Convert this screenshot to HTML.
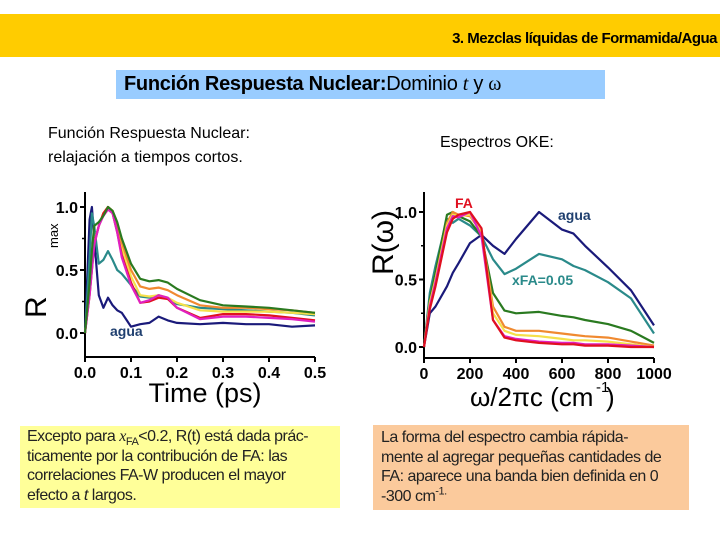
<!DOCTYPE html>
<html><head><meta charset="utf-8"><style>
body{margin:0;width:720px;height:540px;background:#fff;position:relative;overflow:hidden;font-family:"Liberation Sans",sans-serif}
.a{position:absolute}
.note{font-size:16px;line-height:19.5px;color:#222;letter-spacing:-0.5px;white-space:nowrap}
.note sub,.note sup{line-height:0;font-size:11px}
</style></head><body>
<div class="a" style="left:0;top:14px;width:720px;height:43px;background:#ffcc00"></div>
<div class="a" style="right:3px;top:30px;font-size:15px;font-weight:bold;color:#000;letter-spacing:-0.5px">3. Mezclas líquidas de Formamida/Agua</div>
<div class="a" style="left:116px;top:70px;width:489px;height:29px;background:#99ccff;font-size:20px;line-height:29px;padding-left:8px;box-sizing:border-box;letter-spacing:-0.3px"><b>Función Respuesta Nuclear:</b>Dominio <i style="font-family:'Liberation Serif',serif">t</i> y <span style="font-family:'Liberation Serif',serif">ω</span></div>
<div class="a" style="left:48px;top:122px;font-size:16px;line-height:24px">Función Respuesta Nuclear:<br>relajación a tiempos cortos.</div>
<div class="a" style="left:440px;top:134px;font-size:16px">Espectros OKE:</div>
<div class="a note" style="left:20px;top:426px;width:320px;height:82px;background:#ffff99;padding:1px 7px;box-sizing:border-box">Excepto para <i style="font-family:'Liberation Serif',serif">x</i><sub>FA</sub>&lt;0.2, R(t) está dada prác-<br>ticamente por la contribución de FA: las<br>correlaciones FA-W producen el mayor<br>efecto a <i>t</i> largos.</div>
<div class="a note" style="left:373px;top:425px;width:316px;height:85px;background:#fbca9c;padding:3px 8px;box-sizing:border-box">La forma del espectro cambia rápida-<br>mente al agregar pequeñas cantidades de<br>FA: aparece una banda bien definida en 0<br>-300 cm<sup>-1.</sup></div>
<svg class="a" style="left:0;top:0" width="720" height="540" id="svg"></svg>
<script>
const tVals=[0,0.01,0.015,0.02,0.03,0.04,0.05,0.06,0.07,0.08,0.1,0.12,0.14,0.16,0.18,0.2,0.25,0.3,0.35,0.4,0.45,0.5];
const tAgua=[0,0.9,1.0,0.75,0.3,0.2,0.28,0.22,0.18,0.16,0.05,0.07,0.08,0.13,0.1,0.08,0.07,0.08,0.07,0.07,0.05,0.06];
const tTeal=[0,0.6,0.95,0.85,0.55,0.58,0.65,0.58,0.5,0.47,0.38,0.29,0.28,0.3,0.27,0.23,0.2,0.19,0.18,0.17,0.16,0.14];
const tRed=[0,0.3,0.5,0.7,0.85,0.95,1.0,0.95,0.8,0.62,0.4,0.24,0.25,0.28,0.27,0.2,0.12,0.15,0.15,0.14,0.12,0.1];
const tMag=[0,0.3,0.5,0.7,0.85,0.93,0.98,0.95,0.8,0.6,0.38,0.24,0.26,0.3,0.28,0.2,0.11,0.13,0.13,0.12,0.11,0.09];
const tYel=[0,0.35,0.55,0.72,0.85,0.95,1.0,0.97,0.85,0.68,0.45,0.3,0.29,0.3,0.28,0.24,0.18,0.17,0.17,0.17,0.16,0.15];
const tOra=[0,0.35,0.55,0.72,0.85,0.95,1.0,0.97,0.87,0.72,0.5,0.37,0.35,0.36,0.34,0.3,0.22,0.2,0.2,0.19,0.18,0.16];
const tGre=[0,0.4,0.65,0.85,0.88,0.93,1.0,0.97,0.88,0.75,0.55,0.43,0.41,0.42,0.4,0.35,0.26,0.22,0.21,0.2,0.18,0.16];
const tXTicks=["0.0","0.1","0.2","0.3","0.4","0.5"];
const yTicks=["0.0","0.5","1.0"];
const wVals=[0,25,50,100,125,150,200,250,300,350,400,500,600,650,700,800,900,1000];
const wAgua=[0,0.25,0.3,0.45,0.55,0.62,0.77,0.83,0.75,0.69,0.8,1.0,0.87,0.84,0.75,0.59,0.42,0.16];
const wTeal=[0,0.4,0.6,0.95,0.92,0.95,0.9,0.82,0.65,0.54,0.58,0.69,0.65,0.6,0.57,0.48,0.36,0.1];
const wGre=[0,0.35,0.55,0.98,1.0,0.97,0.93,0.82,0.4,0.27,0.25,0.26,0.23,0.22,0.2,0.17,0.12,0.03];
const wOra=[0,0.33,0.5,0.92,1.0,0.98,0.97,0.85,0.3,0.15,0.12,0.12,0.1,0.09,0.08,0.07,0.04,0.01];
const wYel=[0,0.32,0.5,0.9,0.98,0.97,0.98,0.85,0.25,0.12,0.09,0.08,0.06,0.05,0.05,0.04,0.02,0.0];
const wMag=[0,0.3,0.48,0.88,0.97,0.96,1.0,0.82,0.2,0.08,0.06,0.04,0.03,0.03,0.02,0.02,0.01,0];
const wRed=[0,0.28,0.45,0.85,0.95,0.98,1.0,0.88,0.2,0.07,0.05,0.03,0.02,0.02,0.01,0.01,0.0,0];
const wXTicks=["0","200","400","600","800","1000"];

const svg=document.getElementById('svg');const NS='http://www.w3.org/2000/svg';
function el(tag,attrs,parent){const e=document.createElementNS(NS,tag);for(const k in attrs)e.setAttribute(k,attrs[k]);(parent||svg).appendChild(e);return e;}
function txt(s,attrs,name){const e=el('text',attrs);e.textContent=s;

return e;}
function chart(cfg){
 const g=el('g',{});
 
 
 const X=v=>cfg.x0+(v-cfg.xmin)/(cfg.xmax-cfg.xmin)*(cfg.x1-cfg.x0);
 const Y=v=>cfg.y0-v*(cfg.y0-cfg.y1);
 const ax=el('path',{d:`M${cfg.x0},${cfg.yTop}V${cfg.yBot}H${cfg.x1}`,stroke:'#000','stroke-width':2,fill:'none'},g);
 
 
 yTicks.forEach((s,i)=>{const v=parseFloat(s);el('line',{x1:cfg.x0-5,x2:cfg.x0,y1:Y(v),y2:Y(v),stroke:'#000','stroke-width':2},g);
  txt(s,{x:cfg.x0-7,y:Y(v)+6,'text-anchor':'end','font-size':16,'font-weight':'bold'},'y-tick-label');});
 [0.25,0.75].forEach(v=>el('line',{x1:cfg.x0-3,x2:cfg.x0,y1:Y(v),y2:Y(v),stroke:'#000','stroke-width':1.5},g));
 cfg.xt.forEach(s=>{const v=parseFloat(s);el('line',{x1:X(v),x2:X(v),y1:cfg.yBot,y2:cfg.yBot+5,stroke:'#000','stroke-width':2},g);
  txt(s,{x:X(v),y:cfg.yBot+21,'text-anchor':'middle','font-size':16,'font-weight':'bold'},'x-tick-label');});
 cfg.series.forEach(([vals,col,nm])=>{const p=el('path',{d:vals.map((v,i)=>(i?'L':'M')+X(cfg.xs[i]).toFixed(1)+','+Y(v).toFixed(1)).join(''),stroke:col,'stroke-width':2.2,fill:'none','stroke-linejoin':'round'},g);
  
  });
}
chart({name:'time-chart',x0:85,x1:315,xmin:0,xmax:0.5,y0:333,y1:207,yTop:192,yBot:357,xt:tXTicks,xs:tVals,
 series:[[tAgua,'#1a1a7a','line-agua'],[tTeal,'#2a8a8a','line-xfa-005'],[tYel,'#f5e04a','line-yellow'],[tOra,'#f08a30','line-orange'],[tRed,'#e01020','line-red'],[tMag,'#e020c0','line-magenta'],[tGre,'#2a7a20','line-green']]});
chart({name:'spectrum-chart',x0:424,x1:654,xmin:0,xmax:1000,y0:347,y1:212,yTop:192,yBot:358,xt:wXTicks,xs:wVals,
 series:[[wAgua,'#1a1a7a','spec-agua'],[wTeal,'#2a8a8a','spec-xfa-005'],[wGre,'#2a7a20','spec-green'],[wOra,'#f08a30','spec-orange'],[wYel,'#f5e04a','spec-yellow'],[wMag,'#e020c0','spec-magenta'],[wRed,'#e01020','spec-fa']]});
txt('Time (ps)',{x:205,y:402,'text-anchor':'middle','font-size':27},'x-axis-title-time');
txt('R',{x:0,y:0,'font-size':30,transform:'translate(46,318) rotate(-90)'},'y-axis-title-time');
txt('max',{x:0,y:0,'font-size':13,transform:'translate(58,248) rotate(-90)'},'y-axis-title-max');
txt('agua',{x:110,y:336,'font-size':14,'font-weight':'bold',fill:'#1f3f6f'},'label-agua-time');
txt('R(ω)',{x:0,y:0,'font-size':30,transform:'translate(393,275) rotate(-90)'},'y-axis-title-spectrum');
txt('ω/2πc (cm',{x:470,y:406,'font-size':26},'x-axis-title-spectrum');
txt('-1',{x:596,y:392,'font-size':15},'x-axis-title-exponent');
txt(')',{x:606,y:406,'font-size':26},'x-axis-title-paren');
txt('FA',{x:455,y:208,'font-size':14,'font-weight':'bold',fill:'#e01020'},'label-fa');
txt('agua',{x:558,y:220,'font-size':14,'font-weight':'bold',fill:'#1f3f6f'},'label-agua-spectrum');
txt('xFA=0.05',{x:512,y:285,'font-size':14,'font-weight':'bold',fill:'#2a8a8a'},'label-xfa');
</script>
</body></html>
